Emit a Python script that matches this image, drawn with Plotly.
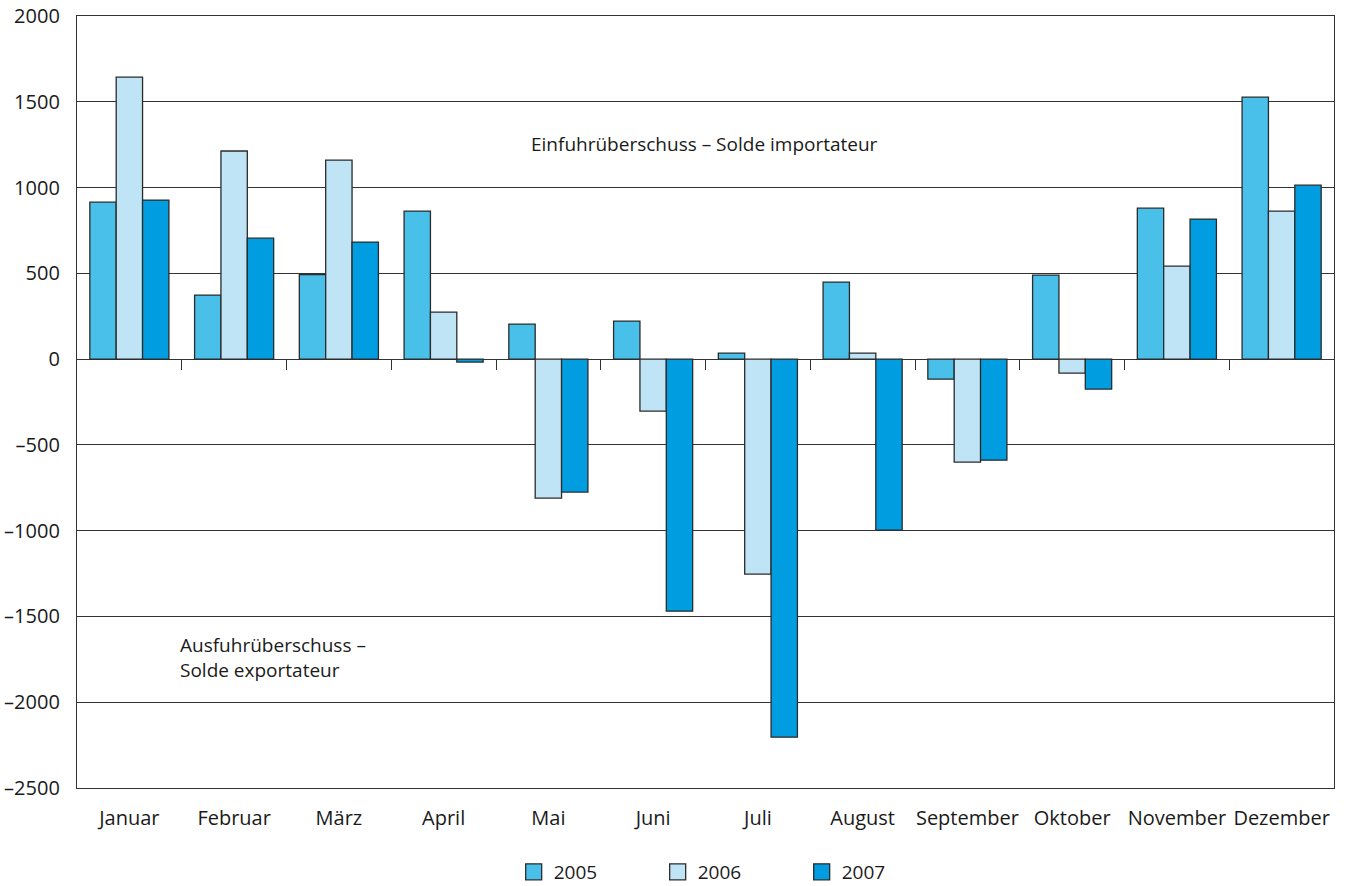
import plotly.graph_objects as go

months = ["Januar", "Februar", "März", "April", "Mai", "Juni", "Juli",
          "August", "September", "Oktober", "November", "Dezember"]
v2005 = [915, 373, 492, 863, 204, 222, 35, 449, -117, 490, 880, 1527]
v2006 = [1644, 1213, 1160, 274, -810, -303, -1253, 35, -600, -82, 542, 863]
v2007 = [927, 705, 682, -17, -775, -1469, -2204, -997, -589, -175, 816, 1014]
years = ["2005", "2006", "2007"]
colors = ["#48C0EA", "#BFE4F6", "#009EE0"]
ytick_vals = [-2500, -2000, -1500, -1000, -500, 0, 500, 1000, 1500, 2000]
ytick_text = [("–" + str(-v)) if v < 0 else str(v) for v in ytick_vals]

FONT = "Open Sans"
LINE = "#2b2b2b"
fig = go.Figure()
for name, vals, col in zip(years, [v2005, v2006, v2007], colors):
    fig.add_trace(go.Bar(
        x=list(range(len(months))), y=vals, name=name, showlegend=False,
        marker=dict(color=col, line=dict(color=LINE, width=1.3)),
    ))
# legend entries (larger square swatches)
for name, col in zip(years, colors):
    fig.add_trace(go.Scatter(
        x=[None], y=[None], mode="markers", name=name,
        marker=dict(symbol="square", size=16, color=col,
                    line=dict(color=LINE, width=1.3)),
    ))

fig.add_trace(go.Scatter(x=[0], y=[0], xaxis="x2", mode="markers",
                         marker=dict(opacity=0), showlegend=False, hoverinfo="skip"))

zero_pos = (0 - ytick_vals[0]) / (ytick_vals[-1] - ytick_vals[0])

fig.update_layout(
    width=1346, height=886,
    margin=dict(l=77, r=12, t=16, b=98, autoexpand=False),
    plot_bgcolor="white", paper_bgcolor="white",
    barmode="group", bargap=0.245, bargroupgap=0,
    font=dict(family=FONT, size=19, color="#1a1a1a"),
    xaxis=dict(
        range=[-0.5, len(months) - 0.5],
        tickvals=list(range(len(months))), ticktext=months,
        showgrid=False, zeroline=False, automargin=False,
        showline=True, linecolor="#333333", linewidth=1.3, mirror=True,
        ticks="outside", ticklen=0, ticklabelstandoff=12,
        tickfont=dict(size=20),
    ),
    xaxis2=dict(
        overlaying="x", anchor="free", position=zero_pos,
        range=[-0.5, len(months) - 0.5], automargin=False,
        tickvals=[i + 0.5 for i in range(len(months) - 1)],
        ticks="outside", ticklen=10, tickwidth=1.3, tickcolor="#333333",
        showticklabels=False, showgrid=False, zeroline=False, showline=False,
    ),
    yaxis=dict(
        range=[ytick_vals[0], ytick_vals[-1]],
        tickvals=ytick_vals, ticktext=ytick_text, automargin=False,
        showgrid=True, gridcolor="#333333", gridwidth=1.3,
        zeroline=True, zerolinecolor="#333333", zerolinewidth=1.3,
        showline=True, linecolor="#333333", linewidth=1.3, mirror=True,
        ticks="", ticklabelstandoff=12,
        tickfont=dict(size=20),
    ),
    legend=dict(
        orientation="h", x=0.3474, xanchor="left", y=-0.1088, yanchor="middle",
        font=dict(size=19), entrywidth=99, itemwidth=30,
        traceorder="normal",
    ),
    annotations=[
        dict(x=0.499, y=0.834, xref="paper", yref="paper", yanchor="middle",
             text="Einfuhrüberschuss – Solde importateur",
             showarrow=False, font=dict(size=19)),
        dict(x=0.464, y=-1580, xref="x", yref="y", xanchor="left", yanchor="top",
             align="left", text="Ausfuhrüberschuss –<br>Solde exportateur",
             showarrow=False, font=dict(size=19)),
    ],
)

fig.write_html("out.html", config={"displayModeBar": False},
               post_script="document.body.style.margin='0';document.body.style.overflow='hidden';")
